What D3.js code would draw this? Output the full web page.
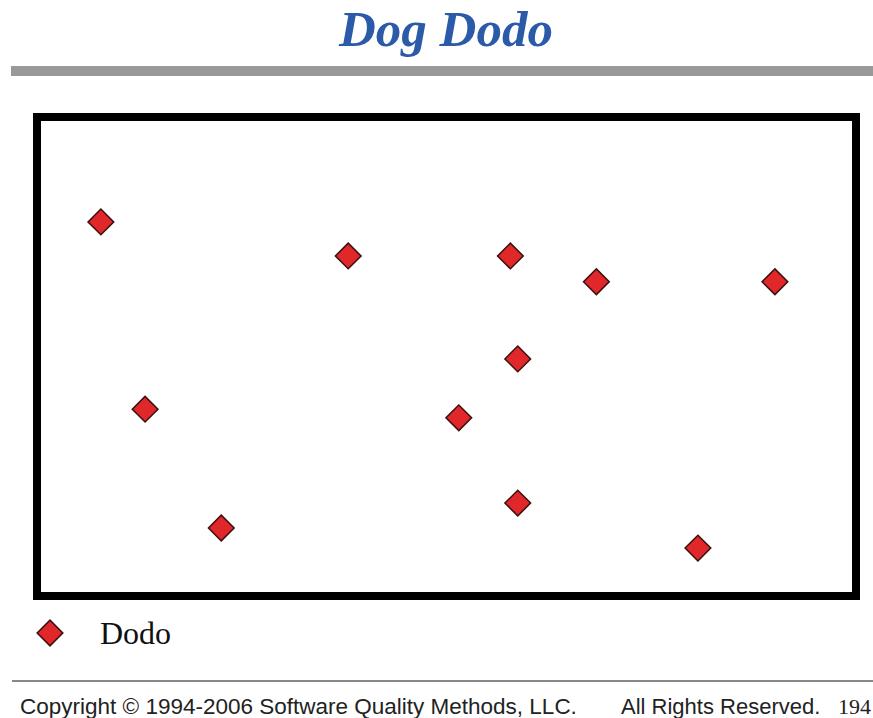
<!DOCTYPE html>
<html>
<head>
<meta charset="utf-8">
<script src="https://cdn.jsdelivr.net/npm/d3@7"></script>
<style>
  body { margin: 0; background: #fff; }
</style>
</head>
<body>
<div id="c"></div>
<script>
"use strict";

// dodo positions (arbitrary 0-100 units, no axes shown)
const dodoX = [7.8, 38.0, 57.8, 68.3, 90.1, 58.7, 13.2, 51.5, 58.7, 22.5, 80.7]
const dodoY = [78.1, 71.0, 71.0, 65.6, 65.6, 49.5, 39.0, 37.2, 19.4, 14.2, 10.0]
const seriesName = "Dodo"
const title = "Dog Dodo"
const footerLeft = "Copyright \u00a9 1994-2006 Software Quality Methods, LLC."
const footerRight = "All Rights Reserved."
const pageNum = "194"

const W = 873, H = 718
const box = {left: 37, top: 117, right: 856, bottom: 596}

let svg = d3.select('#c').append('svg')
    .attr('width', W).attr('height', H)

// title
svg.append('text')
    .attr('x', 446).attr('y', 46)
    .attr('text-anchor', 'middle')
    .style('font-family', '"Liberation Serif", "Times New Roman", serif')
    .style('font-weight', 'bold')
    .style('font-style', 'italic')
    .style('font-size', '51px')
    .attr('fill', '#2b5aa8')
    .text(title)

// gray rule under title
svg.append('rect')
    .attr('x', 11).attr('y', 66)
    .attr('width', W - 11).attr('height', 10)
    .attr('fill', '#999')

let xScale = d3.scaleLinear().domain([0, 100]).range([box.left, box.right])
let yScale = d3.scaleLinear().domain([0, 100]).range([box.bottom, box.top])

// plot frame
svg.append('rect')
    .attr('x', box.left).attr('y', box.top)
    .attr('width', box.right - box.left)
    .attr('height', box.bottom - box.top)
    .attr('fill', 'none')
    .attr('stroke', '#000')
    .attr('stroke-width', 8)

const diamond = d3.symbol().type(d3.symbolSquare).size(330)

svg.append('g')
    .selectAll('path')
    .data(dodoX.map((x, i) => ({x: x, y: dodoY[i]})))
    .enter()
    .append('path')
        .attr('d', diamond)
        .attr('transform', d => 'translate(' + xScale(d.x) + ',' + yScale(d.y) + ') rotate(45)')
        .attr('fill', '#e0282a')
        .attr('stroke', '#3a1010')
        .attr('stroke-width', 1.5)

// legend
let legend = svg.append('g').attr('transform', 'translate(50,633)')
legend.append('path')
    .attr('d', diamond)
    .attr('transform', 'rotate(45)')
    .attr('fill', '#e0282a')
    .attr('stroke', '#3a1010')
    .attr('stroke-width', 1.5)
legend.append('text')
    .attr('x', 50).attr('y', 11)
    .style('font-family', '"Liberation Serif", "Times New Roman", serif')
    .style('font-size', '32px')
    .attr('fill', '#111')
    .text(seriesName)

// footer rule
svg.append('rect')
    .attr('x', 12).attr('y', 680)
    .attr('width', W - 12).attr('height', 2)
    .attr('fill', '#888')

const sans = '"Liberation Sans", Arial, sans-serif'
svg.append('text')
    .attr('x', 20).attr('y', 714)
    .style('font-family', sans).style('font-size', '22.5px')
    .attr('fill', '#222')
    .text(footerLeft)
svg.append('text')
    .attr('x', 621).attr('y', 714)
    .style('font-family', sans).style('font-size', '22px')
    .attr('fill', '#222')
    .text(footerRight)
svg.append('text')
    .attr('x', 838).attr('y', 714)
    .style('font-family', '"Liberation Serif", serif').style('font-size', '22px')
    .attr('fill', '#222')
    .text(pageNum)
</script>
</body>
</html>
